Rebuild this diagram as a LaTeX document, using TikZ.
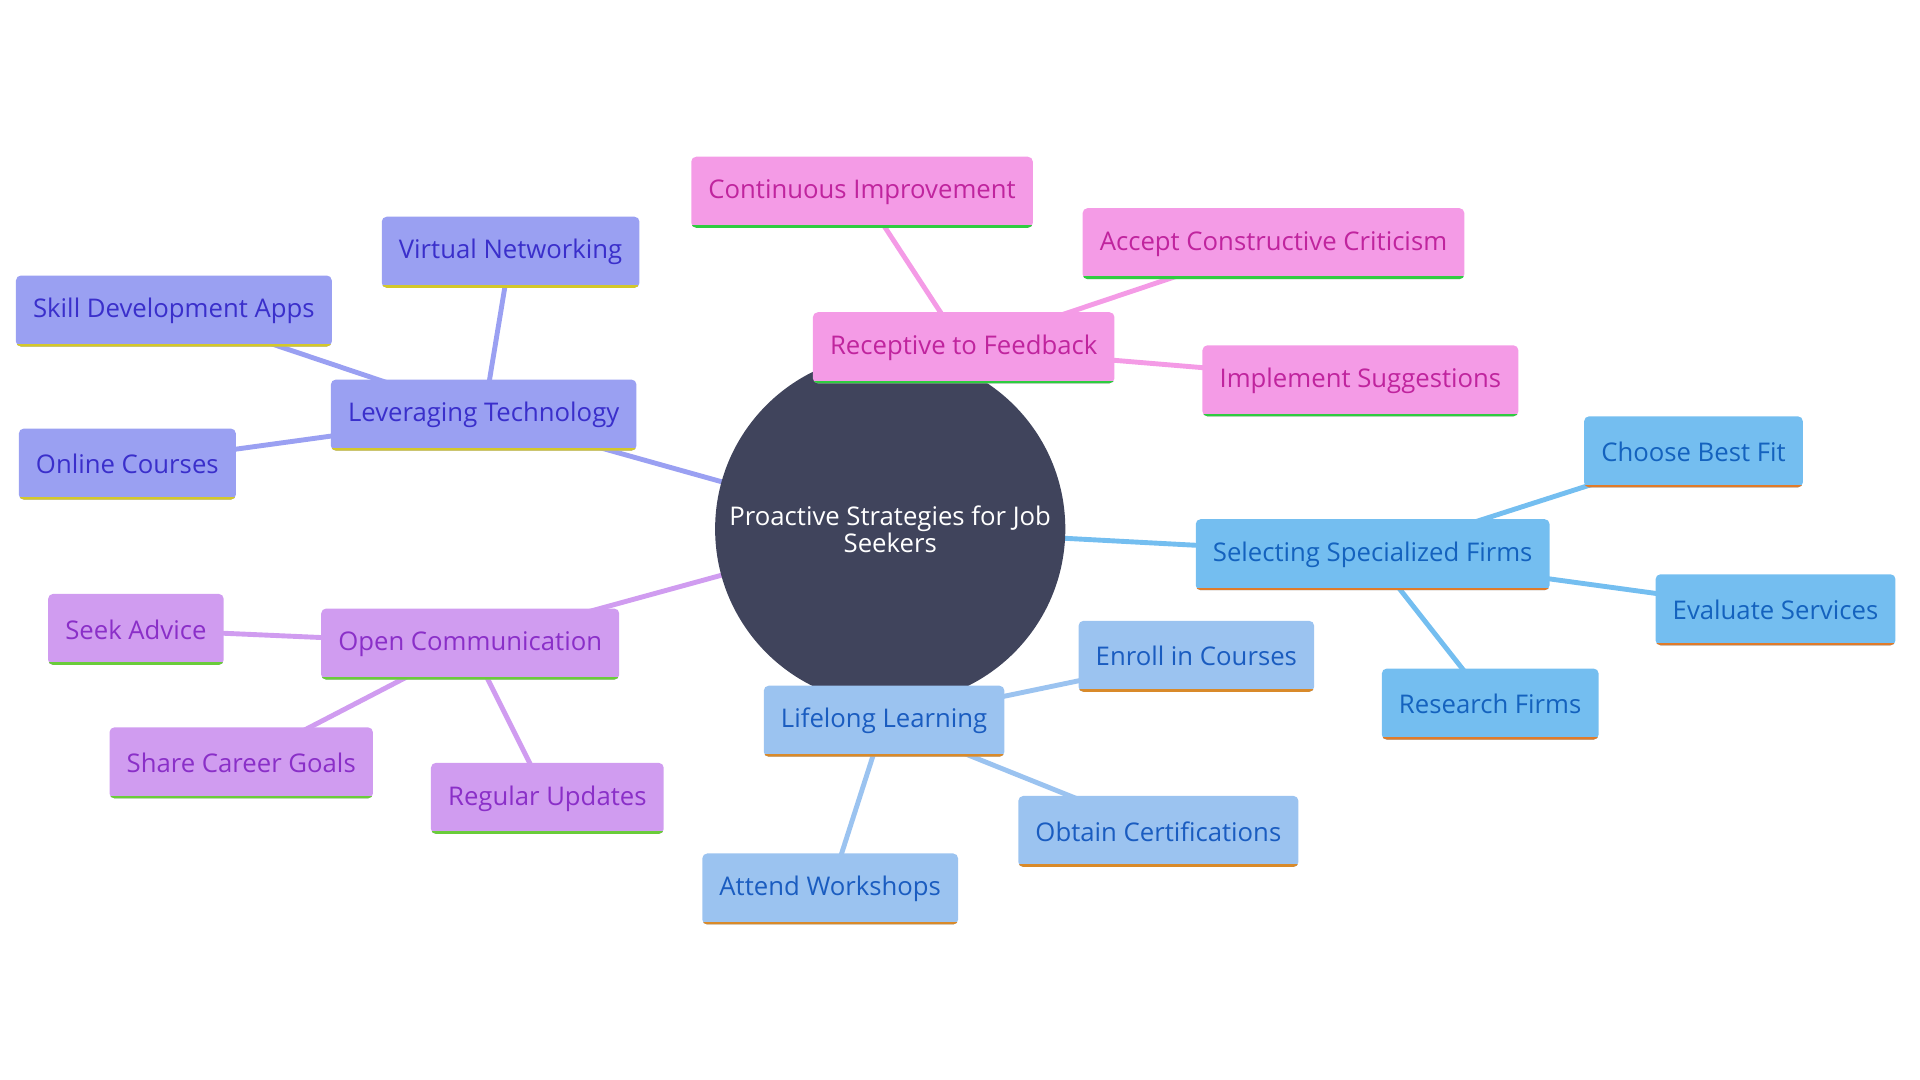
\documentclass[tikz,border=0pt]{standalone}
\usepackage{fontspec}
\setmainfont{Open Sans}
\usetikzlibrary{backgrounds}
\definecolor{hub}{HTML}{40445C}
\definecolor{pinkF}{HTML}{F49BE6}\definecolor{pinkT}{HTML}{C0249E}\definecolor{pinkB}{HTML}{2ECC40}
\definecolor{techF}{HTML}{9AA0F2}\definecolor{techT}{HTML}{3A2FCB}\definecolor{techB}{HTML}{D4C82A}
\definecolor{firmF}{HTML}{74BEF0}\definecolor{firmT}{HTML}{1462BE}\definecolor{firmB}{HTML}{E07B2A}
\definecolor{learnF}{HTML}{9BC3F0}\definecolor{learnT}{HTML}{1A5CC0}\definecolor{learnB}{HTML}{D98A2A}
\definecolor{commF}{HTML}{D09CF0}\definecolor{commT}{HTML}{8A2FC8}\definecolor{commB}{HTML}{6ACC3A}

\tikzset{
  leaf/.style n args={3}{rectangle, rounded corners=2pt, fill=#1, text=#2,
    minimum height=29pt, inner xsep=7pt, font=\fontsize{10.5}{12}\selectfont,
    path picture={\draw[line width=2.2pt,#3]
      (path picture bounding box.south west) -- (path picture bounding box.south east);}},
  pinkbox/.style={leaf={pinkF}{pinkT}{pinkB}},
  techbox/.style={leaf={techF}{techT}{techB}},
  firmbox/.style={leaf={firmF}{firmT}{firmB}},
  learnbox/.style={leaf={learnF}{learnT}{learnB}},
  commbox/.style={leaf={commF}{commT}{commB}},
  link/.style={line width=2pt}
}

\begin{document}
\begin{tikzpicture}[x=0.5pt,y=-0.5pt]
  \useasboundingbox (0,0) rectangle (1568,882);

  % Hub
  \node[circle, fill=hub, minimum size=143pt, text=white, align=center,
        font=\fontsize{10.5}{11}\selectfont] (hub) at (727,432)
        {Proactive Strategies for Job\\Seekers};

  % Feedback branch
  \node[pinkbox] (feedback) at (787,284) {Receptive to Feedback};
  \node[pinkbox] (improve) at (704,157) {Continuous Improvement};
  \node[pinkbox] (criticism) at (1040,199) {Accept Constructive Criticism};
  \node[pinkbox] (suggest) at (1111,311) {Implement Suggestions};

  % Technology branch
  \node[techbox] (tech) at (395,339) {Leveraging Technology};
  \node[techbox] (virtual) at (417,206) {Virtual Networking};
  \node[techbox] (apps) at (142,254) {Skill Development Apps};
  \node[techbox] (online) at (104,379) {Online Courses};

  % Firms branch
  \node[firmbox] (firms) at (1121,453) {Selecting Specialized Firms};
  \node[firmbox] (bestfit) at (1383,369) {Choose Best Fit};
  \node[firmbox] (evaluate) at (1450,498) {Evaluate Services};
  \node[firmbox] (research) at (1217,575) {Research Firms};

  % Learning branch
  \node[learnbox] (learning) at (722,589) {Lifelong Learning};
  \node[learnbox] (enroll) at (977,536) {Enroll in Courses};
  \node[learnbox] (certs) at (946,679) {Obtain Certifications};
  \node[learnbox] (workshops) at (678,726) {Attend Workshops};

  % Communication branch
  \node[commbox] (comm) at (384,526) {Open Communication};
  \node[commbox] (advice) at (111,514) {Seek Advice};
  \node[commbox] (goals) at (197,623) {Share Career Goals};
  \node[commbox] (updates) at (447,652) {Regular Updates};

  % Edges
  \begin{scope}[on background layer]
    \foreach \a/\b in {hub/feedback,feedback/improve,feedback/criticism,feedback/suggest}
      \draw[link,pinkF] (\a.center) -- (\b.center);
    \foreach \a/\b in {hub/tech,tech/virtual,tech/apps,tech/online}
      \draw[link,techF] (\a.center) -- (\b.center);
    \foreach \a/\b in {hub/firms,firms/bestfit,firms/evaluate,firms/research}
      \draw[link,firmF] (\a.center) -- (\b.center);
    \foreach \a/\b in {hub/learning,learning/enroll,learning/certs,learning/workshops}
      \draw[link,learnF] (\a.center) -- (\b.center);
    \foreach \a/\b in {hub/comm,comm/advice,comm/goals,comm/updates}
      \draw[link,commF] (\a.center) -- (\b.center);
  \end{scope}
\end{tikzpicture}
\end{document}
